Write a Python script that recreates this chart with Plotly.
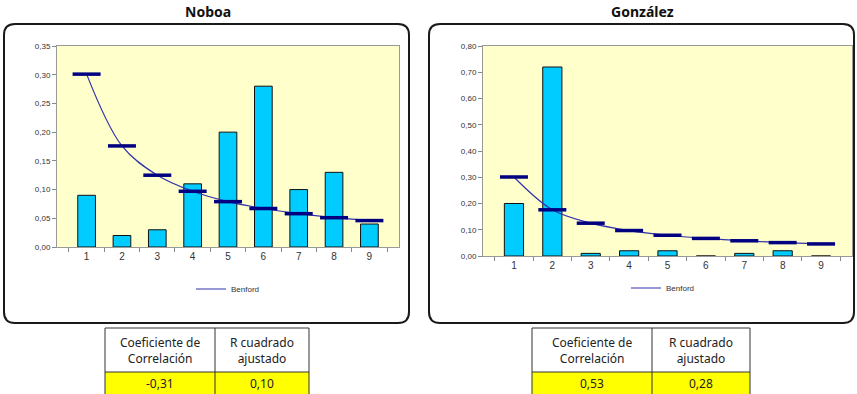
import plotly.graph_objects as go

W, H = 857, 394      # target picture size (coordinates below are in this space)
FIG_H = 403          # rendered page height (the photo is scaled to 394 rows)

digits = ["1", "2", "3", "4", "5", "6", "7", "8", "9"]
benford = [0.301, 0.176, 0.125, 0.097, 0.079, 0.067, 0.058, 0.051, 0.046]
noboa = [0.09, 0.02, 0.03, 0.11, 0.20, 0.28, 0.10, 0.13, 0.04]
gonzalez = [0.20, 0.72, 0.01, 0.02, 0.02, 0.00, 0.01, 0.02, 0.00]

titles = ["Noboa", "González"]
table_headers = ["Coeficiente de<br>Correlación", "R cuadrado<br>ajustado"]
noboa_stats = ["-0,31", "0,10"]
gonzalez_stats = ["0,53", "0,28"]


def px(x):
    return x / W


def py(y):
    return 1 - y / H


fig = go.Figure()

panels = [
    dict(vals=noboa, xa="x", ya="y", leg="legend"),
    dict(vals=gonzalez, xa="x2", ya="y2", leg="legend2"),
]
for p in panels:
    fig.add_trace(go.Bar(
        x=digits, y=p["vals"], xaxis=p["xa"], yaxis=p["ya"],
        marker=dict(color="#00CCFF", line=dict(color="#111111", width=1)),
        width=0.5, showlegend=False, hoverinfo="skip",
    ))
    fig.add_trace(go.Scatter(
        x=digits, y=benford, xaxis=p["xa"], yaxis=p["ya"], name="Benford",
        mode="lines", line=dict(color="#3333AA", width=1.2, shape="spline"),
        legend=p["leg"], showlegend=True, hoverinfo="skip",
    ))
    fig.add_trace(go.Scatter(
        x=digits, y=benford, xaxis=p["xa"], yaxis=p["ya"],
        mode="markers",
        marker=dict(symbol="line-ew", size=20, line=dict(color="#000080", width=3.5)),
        showlegend=False, hoverinfo="skip",
    ))

tickfont = dict(family="Liberation Sans, Arial", size=8, color="#333333")
xcommon = dict(type="category", tickson="boundaries", ticks="outside", ticklen=4,
               tickcolor="#888888", showline=True, linecolor="#999999", mirror=True,
               showgrid=False, tickfont=dict(family="Liberation Sans, Arial", size=10, color="#333333"),
               fixedrange=True)
ycommon = dict(ticks="outside", ticklen=4, tickcolor="#888888", showline=True,
               linecolor="#999999", mirror=True, showgrid=False, zeroline=False,
               tickformat=".2f", tickfont=tickfont, fixedrange=True)

fig.update_layout(
    width=W, height=FIG_H,
    margin=dict(l=0, r=0, t=0, b=0),
    paper_bgcolor="white",
    plot_bgcolor="#FFFFCC",
    separators=",.",
    bargap=0.5,
    xaxis=dict(domain=[px(57), px(399)], anchor="y", **xcommon),
    yaxis=dict(domain=[py(243), py(42)], anchor="x", range=[0, 0.35], dtick=0.05, **ycommon),
    xaxis2=dict(domain=[px(483), px(852)], anchor="y2", **xcommon),
    yaxis2=dict(domain=[py(252), py(42)], anchor="x2", range=[0, 0.80], dtick=0.1, **ycommon),
    legend=dict(x=px(228), y=py(285), xanchor="center", yanchor="middle",
                font=dict(family="Liberation Sans, Arial", size=8, color="#333333"),
                bgcolor="rgba(0,0,0,0)", itemwidth=30, tracegroupgap=0),
    legend2=dict(x=px(663), y=py(284), xanchor="center", yanchor="middle",
                 font=dict(family="Liberation Sans, Arial", size=8, color="#333333"),
                 bgcolor="rgba(0,0,0,0)", itemwidth=30, tracegroupgap=0),
)


def rounded(x0, y0, x1, y1, r):
    X0, X1 = px(x0), px(x1)
    Y0, Y1 = py(y0), py(y1)
    rx, ry = r / W, r / H
    return (f"M {X0+rx},{Y0} L {X1-rx},{Y0} Q {X1},{Y0} {X1},{Y0-ry} "
            f"L {X1},{Y1+ry} Q {X1},{Y1} {X1-rx},{Y1} L {X0+rx},{Y1} "
            f"Q {X0},{Y1} {X0},{Y1+ry} L {X0},{Y0-ry} Q {X0},{Y0} {X0+rx},{Y0} Z")


shapes = []
annotations = []
boxes = [(4, 20, 409, 319), (429, 20, 854, 319)]
for (x0, y0, x1, y1), t in zip(boxes, titles):
    shapes.append(dict(type="path", xref="paper", yref="paper", path=rounded(x0, y0, x1, y1, 11),
                       line=dict(color="#1a1a1a", width=2), layer="above"))
    annotations.append(dict(text=f"<b>{t}</b>", x=px((x0 + x1) / 2 + 1), y=py(8),
                            xref="paper", yref="paper", showarrow=False,
                            xanchor="center", yanchor="middle",
                            font=dict(family="Noto Sans, Open Sans", size=14, color="#111111")))

tables = [((105, 215, 309), noboa_stats), ((532, 652, 750), gonzalez_stats)]
top, mid, bot = 324, 368, 391
for (xl, xm, xr), stats in tables:
    shapes.append(dict(type="rect", xref="paper", yref="paper", x0=px(xl), x1=px(xr),
                       y0=py(bot), y1=py(mid), fillcolor="#FFFF00", line=dict(width=0), layer="below"))
    for (a, b, c, d) in [(xl, top, xr, top), (xl, mid, xr, mid), (xl, bot, xr, bot),
                         (xl, top, xl, bot), (xm, top, xm, bot), (xr, top, xr, bot)]:
        shapes.append(dict(type="line", xref="paper", yref="paper", x0=px(a), x1=px(c),
                           y0=py(b), y1=py(d), line=dict(color="#333333", width=1)))
    cols = [(xl, xm), (xm, xr)]
    for (c0, c1), hdr, val in zip(cols, table_headers, stats):
        annotations.append(dict(text=hdr, x=px((c0 + c1) / 2), y=py((top + mid) / 2),
                                xref="paper", yref="paper", showarrow=False,
                                xanchor="center", yanchor="middle",
                                font=dict(family="Noto Sans, Open Sans", size=12, color="#222222")))
        annotations.append(dict(text=val, x=px((c0 + c1) / 2), y=py((mid + bot) / 2),
                                xref="paper", yref="paper", showarrow=False,
                                xanchor="center", yanchor="middle",
                                font=dict(family="Noto Sans, Open Sans", size=12, color="#222222")))

fig.update_layout(shapes=shapes, annotations=annotations)

post = (
    "document.documentElement.style.margin='0';"
    "document.body.style.margin='0';document.body.style.padding='0';"
    "var g=document.getElementById('{plot_id}');"
    "if(g&&g.parentElement){g.parentElement.style.fontSize='0';g.parentElement.style.lineHeight='0';}"
)
fig.write_html("out.html", post_script=post, config={"displayModeBar": False, "staticPlot": True})
